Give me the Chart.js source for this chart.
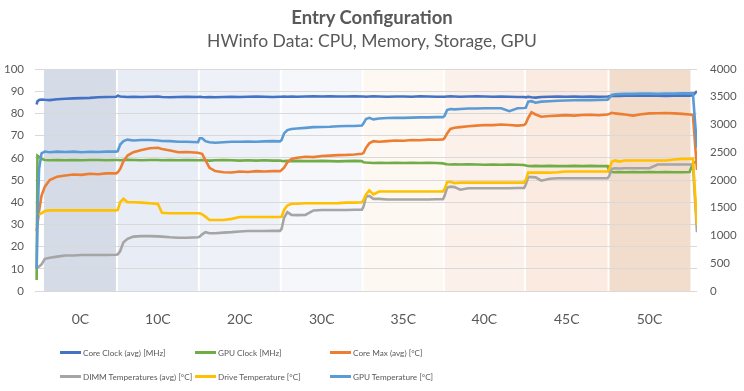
<!DOCTYPE html>
<html>
<head>
<meta charset="utf-8">
<script src="https://cdn.jsdelivr.net/npm/chart.js@4.4.1/dist/chart.umd.min.js"></script>
<style>
  body { margin: 0; background: #fff; }
  #wrap { position: relative; width: 744px; height: 391px; font-family: Lato, sans-serif; color: #595959; }
  #chart { position: absolute; left: 0; top: 0; }
  .title { position: absolute; left: 0; width: 744px; text-align: center; white-space: nowrap; }
  #t1 { top: 6px; font-size: 18.5px; line-height: 22px; font-weight: bold; }
  #t2 { top: 30px; font-size: 17.5px; line-height: 22px; }
  .leg { position: absolute; font-size: 8.2px; line-height: 12px; white-space: nowrap; }
  .leg i { display: inline-block; width: 21px; height: 3px; vertical-align: middle; margin-right: 2px; position: relative; top: -1px; }
</style>
</head>
<body>
<div id="wrap">
  <canvas id="chart" width="744" height="391"></canvas>
  <div class="title" id="t1">Entry Configuration</div>
  <div class="title" id="t2">HWinfo Data: CPU, Memory, Storage, GPU</div>
  <div id="legend"></div>
</div>
<script>
// phases (ambient temperature) and where they start/end on the time axis
const bandLabels = ["0C", "10C", "20C", "30C", "35C", "40C", "45C", "50C"];
const bandEdges = [0.9, 9.8, 19.8, 29.8, 39.8, 49.7, 59.6, 69.8, 79.8];

// sample times (minutes-ish)
const times = [
  0, 0.1, 0.3, 0.6, 1.0, 1.6, 2.5, 3.5, 4.5, 5.5, 6.5, 7.5, 8.5, 9.7,
  9.9, 10.2, 10.6, 11.1, 11.8, 12.8, 13.8, 14.8, 15.3, 16.3, 17.3, 18.3, 19.7,
  19.9, 20.2, 20.6, 21.1, 21.8, 22.8, 23.8, 24.8, 25.8, 26.8, 27.8, 28.8, 29.7,
  29.9, 30.2, 30.6, 31.1, 31.8, 32.8, 33.8, 34.8, 35.8, 36.8, 37.8, 38.8, 39.7,
  39.9, 40.2, 40.6, 41.1, 41.8, 42.8, 43.8, 44.8, 45.8, 46.8, 47.8, 48.8, 49.6,
  49.8, 50.1, 50.5, 51.0, 51.7, 52.7, 53.7, 54.7, 55.7, 56.7, 57.7, 58.7, 59.5,
  59.7, 60.0, 60.4, 60.9, 61.6, 62.6, 63.6, 64.6, 65.6, 66.6, 67.6, 68.6, 69.7,
  69.9, 70.2, 70.6, 71.1, 71.8, 72.8, 73.8, 74.8, 75.8, 76.8, 77.8, 78.8, 79.7,
  80.1, 80.6
];

// MHz (right axis)
const coreClock = [
  3360, 3420, 3440, 3450, 3445, 3440, 3455, 3465, 3470, 3475, 3480, 3490, 3495, 3500,
  3520, 3505, 3500, 3495, 3500, 3495, 3500, 3505, 3495, 3490, 3495, 3500, 3495,
  3500, 3495, 3490, 3495, 3490, 3495, 3500, 3495, 3500, 3505, 3500, 3495, 3500,
  3500, 3505, 3500, 3505, 3500, 3505, 3510, 3505, 3510, 3505, 3505, 3510, 3505,
  3505, 3500, 3505, 3510, 3505, 3500, 3505, 3505, 3500, 3510, 3505, 3500, 3500,
  3500, 3505, 3510, 3505, 3500, 3505, 3510, 3505, 3500, 3505, 3500, 3495, 3495,
  3490, 3500, 3490, 3485, 3495, 3500, 3505, 3500, 3505, 3500, 3505, 3500, 3505,
  3510, 3515, 3520, 3515, 3520, 3525, 3520, 3525, 3520, 3515, 3520, 3525, 3520,
  3525, 3600
];
const gpuClock = [
  200, 2440, 2420, 2380, 2360, 2355, 2360, 2355, 2360, 2355, 2360, 2360, 2355, 2360,
  2360, 2355, 2360, 2365, 2360, 2355, 2360, 2360, 2355, 2360, 2355, 2360, 2355,
  2355, 2360, 2355, 2350, 2355, 2360, 2355, 2350, 2355, 2350, 2355, 2350, 2350,
  2345, 2340, 2345, 2340, 2345, 2340, 2340, 2345, 2340, 2335, 2340, 2345, 2340,
  2320, 2315, 2310, 2305, 2310, 2305, 2310, 2305, 2310, 2305, 2310, 2305, 2300,
  2290, 2285, 2280, 2285, 2280, 2285, 2280, 2275, 2280, 2275, 2280, 2275, 2270,
  2260, 2255, 2250, 2255, 2250, 2255, 2250, 2250, 2255, 2250, 2255, 2250, 2250,
  2150, 2145, 2140, 2145, 2140, 2145, 2140, 2145, 2140, 2145, 2140, 2140, 2145,
  2300, 2340
];

// °C (left axis)
const coreMax = [
  27, 30, 36, 43, 47, 50, 51.5, 52, 52.5, 52.3, 52.8, 52.6, 53, 53,
  53.5, 55, 58.5, 61, 62.5, 63.5, 64.3, 64.5, 64, 63.3, 62.5, 62.6, 62.3,
  62, 61.8, 59, 55.5, 54, 53.5, 53.4, 53.8, 53.6, 54, 53.8, 54, 54,
  54.5, 55.5, 58, 59.5, 60, 60.5, 60.3, 60.8, 61, 61.2, 61.3, 61.5, 61.8,
  62.2, 64.5, 66.5, 67.5, 67.2, 67.5, 67.8, 67.7, 68, 67.9, 68.2, 68.1, 68.3,
  69, 71, 73, 73.5, 73.8, 74.2, 74.5, 74.8, 74.7, 75, 74.8, 74.5, 74.8,
  75.5, 78, 80.5, 79.5, 78.5, 78.8, 79, 79.2, 79, 79.3, 79.4, 79.2, 79.5,
  79.8, 80.3, 80, 79.8, 79.5, 79, 79.6, 80, 80.1, 80.2, 80, 79.8, 79.5,
  79.2, 54.5
];
const dimmTemp = [
  10, 10.5, 11, 12, 14.5, 15, 15.5, 16, 16, 16.2, 16.2, 16.2, 16.2, 16.3,
  16.5, 18, 22, 23.5, 24.5, 24.7, 24.7, 24.6, 24.5, 24.2, 24, 24, 24.2,
  24.5, 25.5, 26.5, 26, 26, 26.3, 26.5, 26.8, 27, 27, 27, 27.1, 27.1,
  28, 33, 35.5, 34.3, 34.2, 34.3, 36.3, 36.5, 36.5, 36.5, 36.5, 36.6, 36.6,
  38, 42.5, 42.8, 41.5, 41.5, 41.2, 41.2, 41.2, 41.2, 41.2, 41.2, 41.3, 41.3,
  43, 46.5, 47, 46.8, 45.6, 46.3, 46.3, 46.3, 46.3, 46.3, 46.3, 46.4, 46.4,
  48, 51.3, 51.3, 51.2, 49.7, 50.6, 50.8, 50.8, 50.8, 50.8, 50.8, 50.8, 50.8,
  52, 55, 55.3, 55.2, 55.3, 55.3, 55.3, 55.3, 57, 57, 57, 57, 57,
  57, 26.5
];
const driveTemp = [
  35, 35, 34.5, 35, 36, 36.3, 36.3, 36.3, 36.3, 36.3, 36.3, 36.3, 36.3, 36.3,
  36.5, 40, 41.5, 40, 40, 39.8, 39.5, 39.2, 35.2, 35, 35, 35, 35,
  35, 34.5, 33.5, 32, 32, 32, 32.5, 33.3, 33.3, 33.3, 33.3, 33.3, 33.3,
  33.5, 36.5, 38.5, 39.3, 39.3, 39.5, 39.5, 39.5, 39.5, 39.6, 39.8, 39.8, 40,
  41, 43.5, 45.3, 43.5, 44.8, 44.8, 44.8, 44.8, 44.8, 44.8, 44.8, 44.8, 44.8,
  46, 49, 49.2, 48.6, 48.8, 48.8, 48.8, 48.8, 48.8, 48.8, 48.8, 48.8, 48.8,
  50, 53.3, 53.3, 53.3, 53.3, 53.3, 53.5, 53.8, 53.8, 53.8, 53.8, 53.8, 53.8,
  55, 58.2, 58.8, 58.3, 58.8, 58.8, 58.8, 58.8, 58.8, 58.8, 59.2, 59.5, 59.5,
  59.5, 29.7
];
const gpuTemp = [
  10, 30, 55, 62, 62.8, 62.5, 62.8, 62.6, 62.8, 62.5, 62.7, 62.6, 62.8, 62.8,
  63, 66, 67.5, 68.2, 67.8, 68, 68, 67.8, 67.6, 67.5, 67.2, 67.2, 67,
  68.8, 68.8, 67.5, 67, 66.8, 67, 67.2, 67.2, 67.3, 67.2, 67.4, 67.5, 67.4,
  68, 71, 72.5, 73, 73.2, 73.5, 73.8, 73.9, 74, 74.2, 74.3, 74.3, 74.5,
  75.5, 77.5, 78, 77.3, 77.7, 77.9, 78, 78, 78.1, 78.2, 78.2, 78.3, 78.3,
  79, 81.5, 82, 81.8, 82, 82.2, 82.2, 82.3, 82.3, 82.3, 81, 82.3, 82.4,
  82.5, 85.3, 85.5, 84.8, 85.3, 85.5, 85.7, 85.8, 85.9, 86, 86, 86.1, 86.2,
  87, 88.3, 88.6, 88.7, 88.8, 88.8, 88.9, 88.9, 88.8, 88.9, 88.9, 89, 89,
  89, 64.5
];

const series = [
  { label: "Core Clock (avg) [MHz]", values: coreClock, color: "#4472C4", axis: "y2" },
  { label: "GPU Clock [MHz]", values: gpuClock, color: "#70AD47", axis: "y2" },
  { label: "Core Max (avg) [°C]", values: coreMax, color: "#ED7D31", axis: "y" },
  { label: "DIMM Temperatures (avg) [°C]", values: dimmTemp, color: "#A5A5A5", axis: "y" },
  { label: "Drive Temperature [°C]", values: driveTemp, color: "#FFC000", axis: "y" },
  { label: "GPU Temperature [°C]", values: gpuTemp, color: "#5B9BD5", axis: "y" },
];

const bandColors = ["#D5DCE7", "#E8ECF5", "#EEF1F8", "#F5F7FB", "#FEF8F3", "#FCF1EA", "#FBEADF", "#F2DCCB"];

// phase background bands, drawn before the grid
const bandPlugin = {
  id: "bands",
  beforeDraw(chart) {
    const { ctx, chartArea, scales } = chart;
    const x = scales.x;
    ctx.save();
    for (let i = 0; i < bandLabels.length; i++) {
      const x0 = x.getPixelForValue(bandEdges[i]);
      const x1 = x.getPixelForValue(bandEdges[i + 1]);
      ctx.fillStyle = bandColors[i];
      ctx.fillRect(x0, chartArea.top, x1 - x0, chartArea.bottom - chartArea.top);
    }
    ctx.fillStyle = "#ffffff";
    for (let i = 1; i < bandEdges.length - 1; i++) {
      const px = x.getPixelForValue(bandEdges[i]);
      ctx.fillRect(px - 1, chartArea.top, 2, chartArea.bottom - chartArea.top);
    }
    ctx.restore();
  },
};

const tickFont = { family: "Lato", size: 11.5 };

new Chart(document.getElementById("chart"), {
  type: "line",
  data: {
    datasets: series.map((s, i) => ({
      label: s.label,
      data: times.map((t, k) => ({ x: t, y: s.values[k] })),
      borderColor: s.color,
      backgroundColor: s.color,
      borderWidth: 2.6,
      pointRadius: 0,
      tension: 0,
      yAxisID: s.axis,
      order: series.length - i,
    })),
  },
  options: {
    responsive: false,
    animation: false,
    layout: { padding: { top: 69, left: 0, right: 0, bottom: 0 } },
    plugins: {
      legend: { display: false },
      tooltip: { enabled: false },
    },
    scales: {
      x: {
        type: "linear",
        min: -0.2,
        max: 80.6,
        grid: { display: false },
        border: { display: false },
        afterBuildTicks(scale) {
          scale.ticks = bandLabels.map((_, i) => ({ value: (bandEdges[i] + bandEdges[i + 1]) / 2 }));
        },
        afterFit(scale) { scale.height = 100; },
        ticks: {
          autoSkip: false,
          maxRotation: 0,
          padding: 12,
          color: "#595959",
          font: { family: "Lato", size: 14 },
          callback(value, index) { return bandLabels[index]; },
        },
      },
      y: {
        position: "left",
        min: 0,
        max: 100,
        afterFit(scale) { scale.width = 35; },
        grid: { color: "#D9D9D9", drawTicks: false },
        border: { display: false },
        ticks: { stepSize: 10, padding: 11, color: "#595959", font: tickFont },
      },
      y2: {
        position: "right",
        min: 0,
        max: 4000,
        afterFit(scale) { scale.width = 47; },
        grid: { drawOnChartArea: false, drawTicks: false },
        border: { display: false },
        ticks: {
          stepSize: 500,
          padding: 13,
          color: "#595959",
          font: tickFont,
          callback: (value) => String(value),
        },
      },
    },
  },
  plugins: [bandPlugin],
});

// legend laid out in three columns like the original
const legendCols = [60, 195, 330];
const legendRows = [353, 377];
const legendBox = document.getElementById("legend");
series.forEach((s, i) => {
  const item = document.createElement("div");
  item.className = "leg";
  item.style.left = legendCols[i % 3] + "px";
  item.style.top = (legendRows[Math.floor(i / 3)] - 6) + "px";
  item.innerHTML = '<i style="background:' + s.color + '"></i>' + s.label;
  legendBox.appendChild(item);
});
</script>
</body>
</html>
